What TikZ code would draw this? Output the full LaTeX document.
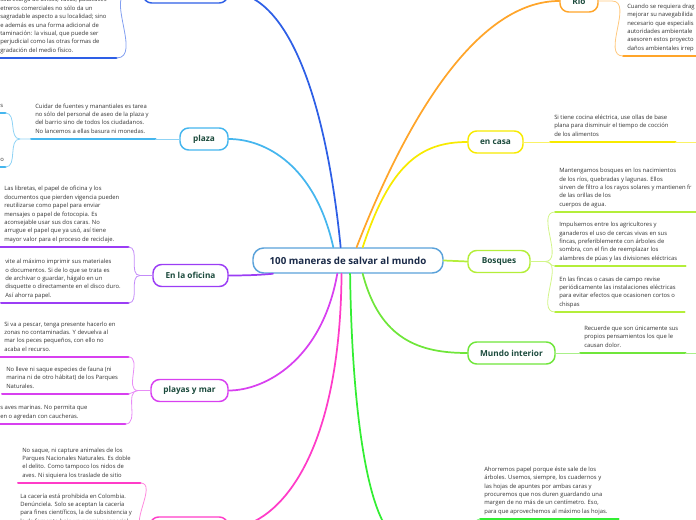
\documentclass[tikz,border=0pt]{standalone}
\usepackage{fontspec}
\setmainfont{Open Sans}
\definecolor{ink}{HTML}{1B4A3C}
\definecolor{rootink}{HTML}{1A2A48}
\definecolor{leafink}{HTML}{333333}
\definecolor{rootline}{HTML}{5AA2DA}
\definecolor{cvallas}{HTML}{2E5FE6}
\definecolor{cplaza}{HTML}{45B6EE}
\definecolor{coficina}{HTML}{9B3DF5}
\definecolor{cplayas}{HTML}{D840F0}
\definecolor{cfauna}{HTML}{FF3CC8}
\definecolor{crio}{HTML}{FFA52A}
\definecolor{ccasa}{HTML}{F7EA00}
\definecolor{cbosque}{HTML}{B4EE3A}
\definecolor{cmundo}{HTML}{6FE63A}
\definecolor{cpapel}{HTML}{33EE33}

% leaf text: lines as given, left aligned in a box of the leaf's width
\newcommand\leaflines[1]{\makebox[\leafwd][l]{\begin{tabular}[b]{@{}l@{}}#1\end{tabular}}}

\tikzset{
  topic/.style={draw=#1, fill=white, line width=1.1pt, rounded corners=6.5pt,
    text=ink, font=\fontsize{6.2}{7}\selectfont\bfseries,
    minimum height=16.5pt, inner sep=0pt},
  boxw/.style={minimum width=0.75*#1pt},
  leaf/.style={anchor=south west, text=leafink,
    font=\fontsize{4.4}{6.3}\selectfont, inner xsep=3pt, inner ysep=2.2pt},
  leafw/.code={\pgfmathsetlengthmacro\leafwd{0.75*#1pt-6pt}},
  branch/.style={draw=#1, line width=1.3pt},
  uline/.style={draw=#1, line width=1.5pt},
  twig/.style={draw=#1!60, line width=0.6pt},
}

\begin{document}
\begin{tikzpicture}[x=0.75pt, y=-0.75pt, line cap=round]
  \useasboundingbox (0,0) rectangle (696,520);
  \clip (0,0) rectangle (696,520);

  % centre topic
  \node[draw=rootline, fill=white, line width=1.1pt, rounded corners=8pt,
        minimum width=0.75*190pt, minimum height=0.75*25pt, text=rootink,
        font=\fontsize{7.3}{8}\selectfont\bfseries] (root) at (348,260.5)
        {100 maneras de salvar al mundo};

  % main topics, left side
  \node[topic=cvallas, boxw=85]  (vallas)  at (185.5,-8)  {};
  \node[topic=cplaza, boxw=48]   (plaza)   at (204,139)   {plaza};
  \node[topic=coficina, boxw=75] (oficina) at (190.5,275.5) {En la oficina};
  \node[topic=cplayas, boxw=77]  (playas)  at (189.5,390.5) {playas y mar};
  \node[topic=cfauna, boxw=78]   (fauna)   at (189,528)   {};

  % main topics, right side
  \node[topic=crio, boxw=38]     (rio)     at (579,1)     {Río};
  \node[topic=ccasa, boxw=55]    (casa)    at (495.5,142) {en casa};
  \node[topic=cbosque, boxw=62]  (bosques) at (499,261.5) {Bosques};
  \node[topic=cmundo, boxw=87]   (mundo)   at (511.5,353) {Mundo interior};
  \node[topic=cpapel, boxw=62]   (papel)   at (436,540)   {};

  % branches from the centre
  \draw[branch=cvallas]  (root.119) .. controls (325,90) and (285,-8) .. (vallas.east);
  \draw[branch=cplaza]   (root.138) .. controls (315,165) and (265,139) .. (plaza.east);
  \draw[branch=coficina] (root.190) .. controls (260,275) and (245,275.5) .. (oficina.east);
  \draw[branch=cplayas]  (root.231) .. controls (322,360) and (265,390.5) .. (playas.east);
  \draw[branch=cfauna]   (root.244) .. controls (340,470) and (270,528) .. (fauna.east);
  \draw[branch=crio]     (root.57)  .. controls (410,110) and (480,1) .. (rio.west);
  \draw[branch=ccasa]    (root.42)  .. controls (390,165) and (420,142) .. (casa.west);
  \draw[branch=cbosque]  (root.east) -- (bosques.west);
  \draw[branch=cmundo]   (root.318) .. controls (380,340) and (420,353) .. (mundo.west);
  \draw[branch=cpapel]   (root.279) .. controls (352,420) and (370,540) .. (papel.west);

  % fork points
  \coordinate (fvallas) at (130,-8);
  \coordinate (fplaza)  at (20,139);
  \coordinate (foficina) at (140,275.5);
  \coordinate (fplayas) at (138,390.5);
  \coordinate (ffauna)  at (145,528);
  \coordinate (frio)    at (612,1);
  \coordinate (fbosques) at (545,261.5);
  \coordinate (casamore) at (700,142);
  \coordinate (mundomore) at (700,353);

  % leaves, left side
  \node[leaf, leafw=120] (sobrecarga) at (-4,58) {\leaflines{sobrecarga de avisos, vallas, pasacalles\\
    etreros comerciales no sólo da un\\ sagradable aspecto a su localidad; sino\\
    e además es una forma adicional de\\ taminación: la visual, que puede ser\\
    perjudicial como las otras formas de\\ gradación del medio físico.}};
  \node[leaf, leafw=124] (cuidar) at (31,139) {\leaflines{Cuidar de fuentes y manantiales es tarea\\
    no sólo del personal de aseo de la plaza y\\ del barrio sino de todos los ciudadanos.\\
    No lancemos a ellas basura ni monedas.}};
  \node[leaf, leafw=9] (frags) at (-4,113) {\leaflines{s}};
  \node[leaf, leafw=9] (frago) at (-4,167) {\leaflines{o}};
  \node[leaf, leafw=128] (libretas) at (0,247) {\leaflines{Las libretas, el papel de oficina y los\\
    documentos que pierden vigencia pueden\\ reutilizarse como papel para enviar\\
    mensajes o papel de fotocopia. Es\\ aconsejable usar sus dos caras. No\\
    arrugue el papel que ya usó, así tiene\\ mayor valor para el proceso de reciclaje.}};
  \node[leaf, leafw=127] (evite) at (1,303) {\leaflines{vite al máximo imprimir sus materiales\\
    o documentos. Si de lo que se trata es\\ de archivar o guardar, hágalo en un\\
    disquette o directamente en el disco duro.\\ Así ahorra papel.}};
  \node[leaf, leafw=128] (pescar) at (0,357) {\leaflines{Si va a pescar, tenga presente hacerlo en\\
    zonas no contaminadas. Y devuelva al\\ mar los peces pequeños, con ello no\\
    acaba el recurso.}};
  \node[leaf, leafw=126] (especies) at (2,394) {\leaflines{No lleve ni saque especies de fauna (ni\\
    marina ni de otro hábitat) de los Parques\\ Naturales.}};
  \node[leaf, leafw=129] (aves) at (-4,424) {\leaflines{s aves marinas. No permita que\\
    en o agredan con caucheras.}};
  \node[leaf, leafw=122] (nidos) at (18,483) {\leaflines{No saque, ni capture animales de los\\
    Parques Nacionales Naturales. Es doble\\ el delito. Como tampoco los nidos de\\
    aves. Ni siquiera los traslade de sitio}};
  \node[leaf, leafw=124] (caceria) at (16,529) {\leaflines{La cacería está prohibida en Colombia.\\
    Denúnciela. Solo se aceptan la cacería\\ para fines científicos, la de subsistencia y\\
    la de fomento bajo un permiso especial}};

  % leaves, right side
  \node[leaf, leafw=100] (dragar) at (623,56) {\leaflines{Cuando se requiera drag\\ mejorar su navegabilida\\
    necesario que especialis\\ autoridades ambientale\\ asesoren estos proyecto\\
    daños ambientales irrep}};
  \node[leaf, leafw=125] (cocina) at (550,142) {\leaflines{Si tiene cocina eléctrica, use ollas de base\\
    plana para disminuir el tiempo de cocción\\ de los alimentos}};
  \node[leaf, leafw=160] (nacimientos) at (555,212) {\leaflines{Mantengamos bosques en los nacimientos\\
    de los ríos, quebradas y lagunas. Ellos\\
    sirven de filtro a los rayos solares y mantienen fr\\ de las orillas de los\\
    cuerpos de agua.}};
  \node[leaf, leafw=130] (cercas) at (555,266) {\leaflines{Impulsemos entre los agricultores y\\
    ganaderos el uso de cercas vivas en sus\\ fincas, preferiblemente con árboles de\\
    sombra, con el fin de reemplazar los\\ alambres de púas y las divisiones eléctricas}};
  \node[leaf, leafw=129] (fincas) at (555,312) {\leaflines{En las fincas o casas de campo revise\\
    periódicamente las instalaciones eléctricas\\ para evitar efectos que ocasionen cortos o\\
    chispas}};
  \node[leaf, leafw=105] (pensamientos) at (580,353) {\leaflines{Recuerde que son únicamente sus\\
    propios pensamientos los que le\\ causan dolor.}};
  \node[leaf, leafw=138] (ahorremos) at (480,519) {\leaflines{Ahorremos papel porque éste sale de los\\
    árboles. Usemos, siempre, los cuadernos y\\ las hojas de apuntes por ambas caras y\\
    procuremos que nos duren guardando una\\ margen de no más de un centímetro. Eso,\\
    para que aprovechemos al máximo las hojas.}};

  % underlines
  \foreach \n/\c in {sobrecarga/cvallas, cuidar/cplaza, frags/cplaza, frago/cplaza,
      libretas/coficina, evite/coficina, pescar/cplayas, especies/cplayas, aves/cplayas,
      nidos/cfauna, caceria/cfauna, dragar/crio, cocina/ccasa, nacimientos/cbosque,
      cercas/cbosque, fincas/cbosque, pensamientos/cmundo, ahorremos/cpapel}
    \draw[uline=\c] (\n.south west) -- (\n.south east);

  % twigs to the leaves
  \draw[twig=cvallas] (vallas.west) -- (fvallas) to[out=180,in=0] (sobrecarga.south east);
  \draw[twig=cplaza] (plaza.west) -- (cuidar.south east);
  \draw[twig=cplaza] (cuidar.south west) -- (fplaza) to[out=180,in=0] (frags.south east);
  \draw[twig=cplaza] (fplaza) to[out=180,in=0] (frago.south east);
  \draw[twig=coficina] (oficina.west) -- (foficina) to[out=180,in=0] (libretas.south east);
  \draw[twig=coficina] (foficina) to[out=180,in=0] (evite.south east);
  \draw[twig=cplayas] (playas.west) -- (fplayas) to[out=180,in=0] (pescar.south east);
  \draw[twig=cplayas] (fplayas) to[out=180,in=0] (especies.south east);
  \draw[twig=cplayas] (fplayas) to[out=180,in=0] (aves.south east);
  \draw[twig=cfauna] (fauna.west) -- (ffauna) to[out=180,in=0] (nidos.south east);
  \draw[twig=cfauna] (ffauna) to[out=180,in=0] (caceria.south east);
  \draw[twig=crio] (rio.east) -- (frio) to[out=0,in=180] (dragar.south west);
  \draw[twig=ccasa] (casa.east) -- (cocina.south west);
  \draw[twig=ccasa] (cocina.south east) -- (casamore);
  \draw[twig=cbosque] (bosques.east) -- (fbosques) to[out=0,in=180] (nacimientos.south west);
  \draw[twig=cbosque] (fbosques) to[out=0,in=180] (cercas.south west);
  \draw[twig=cbosque] (fbosques) to[out=0,in=180] (fincas.south west);
  \draw[twig=cmundo] (mundo.east) -- (pensamientos.south west);
  \draw[twig=cmundo] (pensamientos.south east) -- (mundomore);
  \draw[twig=cpapel] (papel.east) to[out=0,in=180] (ahorremos.south west);
\end{tikzpicture}
\end{document}
